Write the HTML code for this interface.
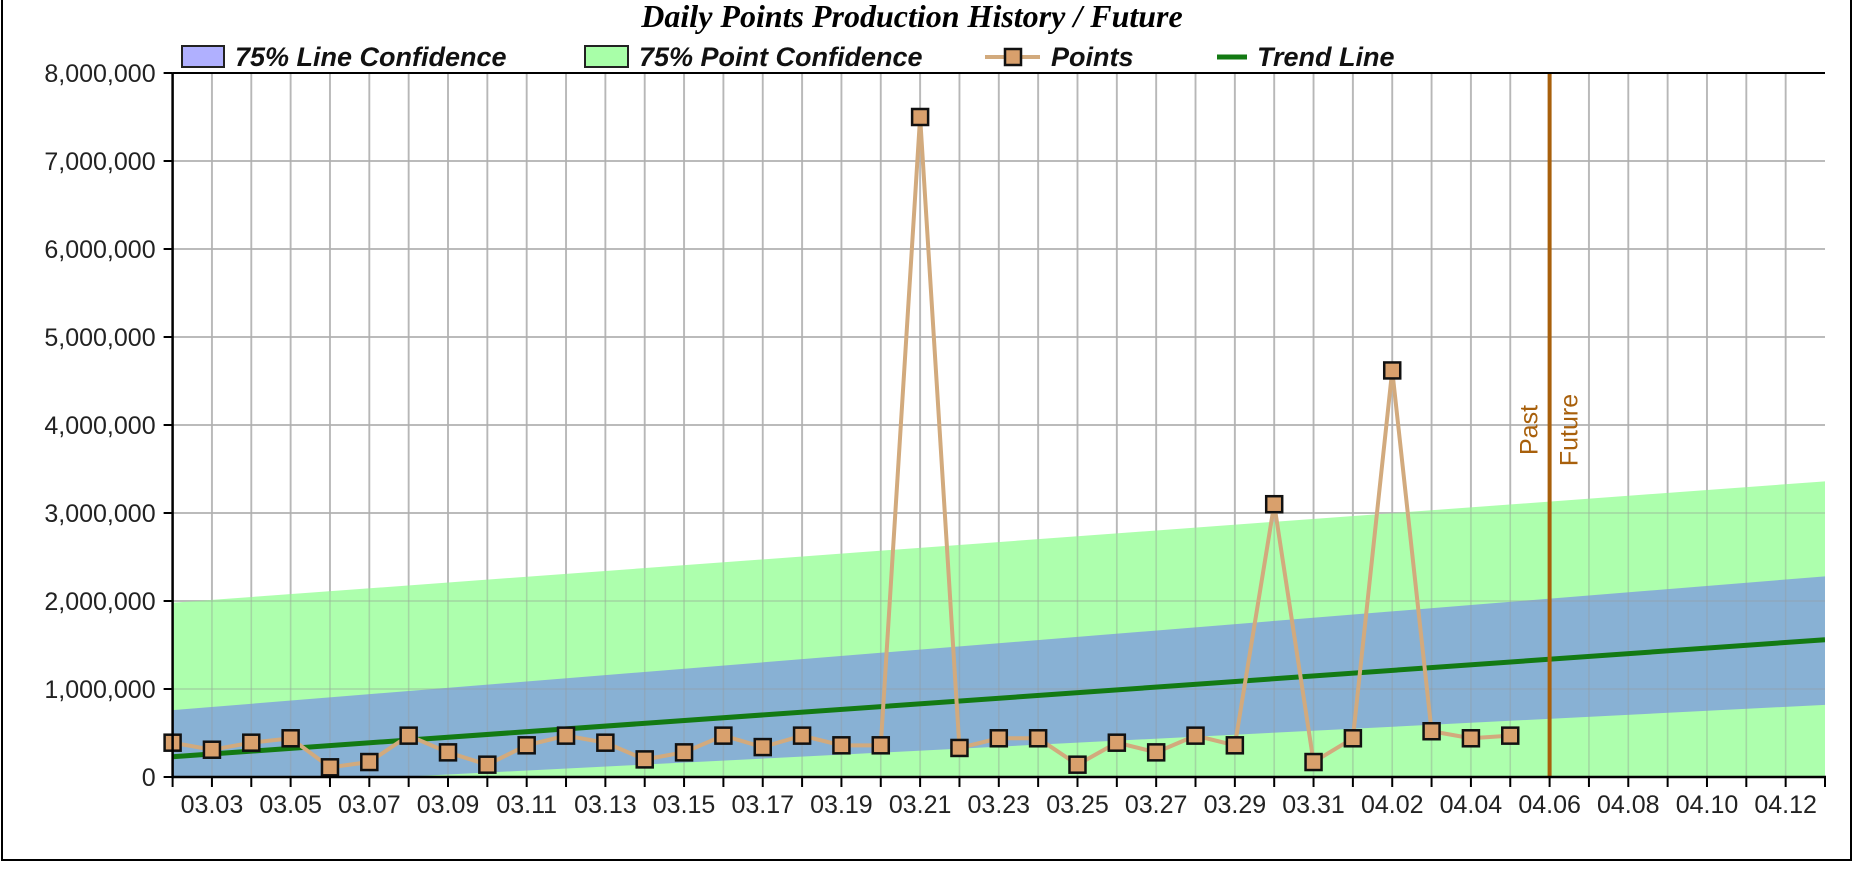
<!DOCTYPE html>
<html><head><meta charset="utf-8"><style>
body{margin:0;background:#fff;width:1861px;height:864px;overflow:hidden}
svg text{font-family:"Liberation Sans",sans-serif}
</style></head><body>
<svg id="c" width="1861" height="864" xmlns="http://www.w3.org/2000/svg"></svg>
<script>
const dates=["03.02","03.03","03.04","03.05","03.06","03.07","03.08","03.09","03.10","03.11","03.12","03.13","03.14","03.15","03.16","03.17","03.18","03.19","03.20","03.21","03.22","03.23","03.24","03.25","03.26","03.27","03.28","03.29","03.30","03.31","04.01","04.02","04.03","04.04","04.05"];
const points=[390000,310000,390000,440000,110000,170000,470000,280000,140000,360000,470000,390000,200000,280000,470000,340000,470000,360000,360000,7500000,330000,440000,440000,140000,390000,280000,470000,360000,3100000,170000,440000,4620000,520000,440000,470000];
const allDays=["03.02","03.03","03.04","03.05","03.06","03.07","03.08","03.09","03.10","03.11","03.12","03.13","03.14","03.15","03.16","03.17","03.18","03.19","03.20","03.21","03.22","03.23","03.24","03.25","03.26","03.27","03.28","03.29","03.30","03.31","04.01","04.02","04.03","04.04","04.05","04.06","04.07","04.08","04.09","04.10","04.11","04.12","04.13"];
const bandDays=[0,42];
const trend=[230000,1560000];
const lineUpper=[760000,2280000];
const lineLower=[-130000,820000];
const pointUpper=[1980000,3360000];
const pointLower=[-1520000,-240000];
const yTicks=[0,1000000,2000000,3000000,4000000,5000000,6000000,7000000,8000000];
const dividerDay=35;

const L=172.6,R=1825,T=73,B=777,DAYS=42,YMAX=8000000;
const X=d=>L+(R-L)*d/DAYS;
const Y=v=>B-(B-T)*v/YMAX;
const svg=document.getElementById('c');
const NS="http://www.w3.org/2000/svg";
function mk(t,a,p){const e=document.createElementNS(NS,t);for(const k in a)e.setAttribute(k,a[k]);(p||svg).appendChild(e);return e;}
const defs=mk('defs',{});const cp=mk('clipPath',{id:'pc'},defs);mk('rect',{x:L,y:T,width:R-L,height:B-T},cp);
let e=mk('rect',{x:2,y:-2,width:1849,height:862,fill:'none',stroke:'#000','stroke-width':2});

e=mk('text',{x:912,y:27,'text-anchor':'middle','font-size':32,'font-weight':'bold','font-style':'italic',style:'font-family:"Liberation Serif",serif'});e.textContent='Daily Points Production History / Future';

const g=mk('g',{});
for(let d=1;d<DAYS;d++)mk('line',{x1:X(d),x2:X(d),y1:T,y2:B,stroke:'#c8c8c8','stroke-width':2},g);
yTicks.forEach(v=>mk('line',{x1:L,x2:R,y1:Y(v),y2:Y(v),stroke:'#c8c8c8','stroke-width':2},g));
const cg=mk('g',{'clip-path':'url(#pc)'});
function band(up,lo,fill,name){const pts=[];bandDays.forEach((d,i)=>pts.push(X(d)+','+Y(up[i])));for(let i=bandDays.length-1;i>=0;i--)pts.push(X(bandDays[i])+','+Y(lo[i]));
const p=mk('polygon',{points:pts.join(' '),fill:fill,'fill-opacity':0.9},cg);}
band(pointUpper,pointLower,'#a4ffa4','point-confidence-band');
band(lineUpper,lineLower,'#84a8d8','line-confidence-band');
for(let d=1;d<DAYS;d++)mk('line',{x1:X(d),x2:X(d),y1:T,y2:B,stroke:'#999','stroke-width':1.5,'stroke-opacity':0.35},cg);
yTicks.forEach(v=>mk('line',{x1:L,x2:R,y1:Y(v),y2:Y(v),stroke:'#999','stroke-width':1.5,'stroke-opacity':0.35},cg));
e=mk('line',{x1:X(bandDays[0]),y1:Y(trend[0]),x2:X(bandDays[1]),y2:Y(trend[1]),stroke:'#137a13','stroke-width':5},cg);

e=mk('line',{x1:X(dividerDay),x2:X(dividerDay),y1:T,y2:B,stroke:'#a8600c','stroke-width':4});

e=mk('text',{transform:`translate(${X(dividerDay)-12},${430}) rotate(-90)`,'text-anchor':'middle','font-size':25,fill:'#a8600c'});e.textContent='Past';

e=mk('text',{transform:`translate(${X(dividerDay)+28},${430}) rotate(-90)`,'text-anchor':'middle','font-size':25,fill:'#a8600c'});e.textContent='Future';

e=mk('polyline',{points:points.map((v,i)=>X(i)+','+Y(v)).join(' '),fill:'none',stroke:'#d2aa7d','stroke-width':4});

points.forEach((v,i)=>{const r=mk('rect',{x:X(i)-8,y:Y(v)-8,width:16,height:16,fill:'#d9a06c',stroke:'#111','stroke-width':2.5});
});
e=mk('path',{d:`M${L},${T} V${B} H${R+1}`,fill:'none',stroke:'#000','stroke-width':2.5});

mk('line',{x1:L,x2:R,y1:T,y2:T,stroke:'#000','stroke-width':2});
yTicks.forEach(v=>{mk('line',{x1:L-9,x2:L,y1:Y(v),y2:Y(v),stroke:'#000','stroke-width':2});
const t=mk('text',{x:L-17,y:Y(v)+9,'text-anchor':'end','font-size':25,fill:'#222'});t.textContent=v.toLocaleString('en-US');
});
for(let d=0;d<=DAYS;d++){mk('line',{x1:X(d),x2:X(d),y1:B,y2:B+10,stroke:'#000','stroke-width':2});
if(d%2==1){const t=mk('text',{x:X(d),y:B+36,'text-anchor':'middle','font-size':25,fill:'#222'});t.textContent=allDays[d];
}}
const lg=mk('g',{});
function lt(x,s,name){const t=mk('text',{x:x,y:66,'font-size':27,'font-weight':'bold','font-style':'italic',fill:'#111'},lg);t.textContent=s;}
mk('rect',{x:182,y:46,width:42,height:21,fill:'#b0b0ff',stroke:'#222','stroke-width':2},lg);lt(235,'75% Line Confidence','legend-line-confidence');
mk('rect',{x:585,y:46,width:43,height:21,fill:'#a8ffa8',stroke:'#222','stroke-width':2},lg);lt(639,'75% Point Confidence','legend-point-confidence');
mk('line',{x1:985,x2:1040,y1:57,y2:57,stroke:'#d2aa7d','stroke-width':4},lg);mk('rect',{x:1005,y:49,width:16,height:16,fill:'#d9a06c',stroke:'#111','stroke-width':2.5},lg);lt(1051,'Points','legend-points');
mk('line',{x1:1217,x2:1247,y1:57,y2:57,stroke:'#137a13','stroke-width':5},lg);lt(1257,'Trend Line','legend-trend-line');
</script>
</body></html>
